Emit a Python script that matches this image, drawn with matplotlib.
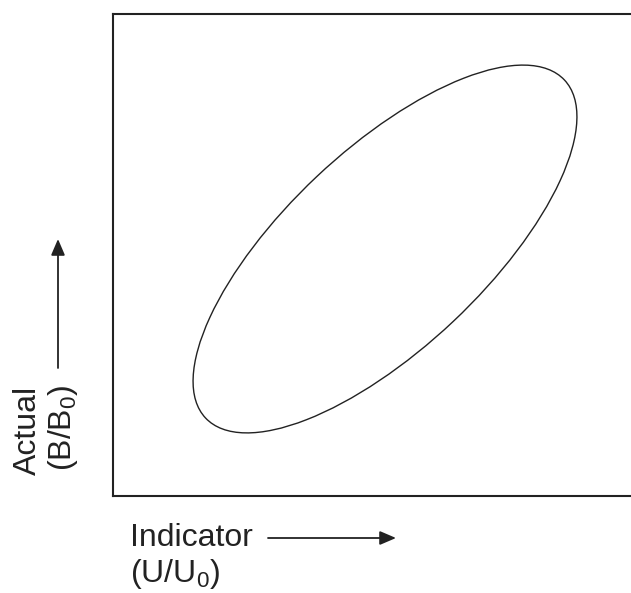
import matplotlib
matplotlib.use("Agg")
import matplotlib.pyplot as plt
from matplotlib.patches import Ellipse, FancyArrowPatch

plt.rcParams['font.family'] = ['Liberation Sans', 'DejaVu Sans']
plt.rcParams['mathtext.fontset'] = 'custom'
plt.rcParams['mathtext.rm'] = 'Liberation Sans'
plt.rcParams['mathtext.it'] = 'Liberation Sans'

# Ellipse parameters (in axis units, axes span 0..518 x 0..482)
ellipse_center = (272, 247)
ellipse_width = 493
ellipse_height = 199
ellipse_angle = 43.3

x_label_lines = ["Indicator", "(U/U$_0$)"]
y_label_lines = ["Actual", "(B/B$_0$)"]

W, H = 631, 593
fig = plt.figure(figsize=(W / 100, H / 100), dpi=100)
ax = fig.add_axes([113 / W, (H - 496) / H, (W - 113) / W, 482 / H])
ax.set_xlim(0, W - 113)
ax.set_ylim(0, 482)
ax.set_xticks([])
ax.set_yticks([])
ax.spines['right'].set_visible(False)
for s in ['left', 'bottom', 'top']:
    ax.spines[s].set_linewidth(1.5)
    ax.spines[s].set_color('#222222')

ax.add_patch(Ellipse(ellipse_center, ellipse_width, ellipse_height, angle=ellipse_angle,
                     fill=False, edgecolor='#222222', linewidth=1.0))

fs = 23
fig.text(130 / W, (H - 538) / H, x_label_lines[0], fontsize=fs, ha='left', va='center', color='#222222')
fig.text(130 / W, (H - 574) / H, x_label_lines[1], fontsize=fs, ha='left', va='center', color='#222222')
fig.text(28 / W, (H - 430) / H, y_label_lines[0], fontsize=fs, ha='center', va='center', rotation=90, color='#222222')
fig.text(63 / W, (H - 428) / H, y_label_lines[1], fontsize=fs, ha='center', va='center', rotation=90, color='#222222')

arrowkw = dict(arrowstyle='-|>,head_length=0.7,head_width=0.3', color='#222222', lw=1.3,
               shrinkA=0, shrinkB=0, mutation_scale=14, transform=fig.transFigure)
fig.add_artist(FancyArrowPatch((268 / W, (H - 538) / H), (396 / W, (H - 538) / H), **arrowkw))
fig.add_artist(FancyArrowPatch((58 / W, (H - 368) / H), (58 / W, (H - 239) / H), **arrowkw))

fig.savefig("out.png", dpi=100, facecolor='white')
